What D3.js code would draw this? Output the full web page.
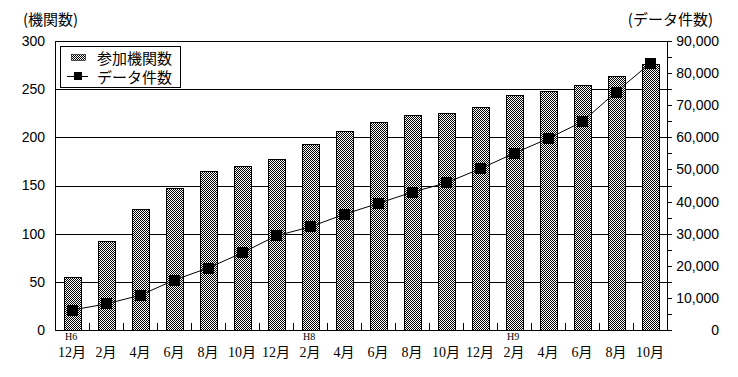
<!DOCTYPE html>
<html><head><meta charset="utf-8">
<script src="https://cdn.jsdelivr.net/npm/d3@7"></script>
<style>
body{margin:0;background:#fff;}
svg{display:block;}
</style></head>
<body>
<svg id="chart" width="738" height="377"></svg>
<script>
const categories = ["12月","2月","4月","6月","8月","10月","12月","2月","4月","6月","8月","10月","12月","2月","4月","6月","8月","10月"];
const eraLabels = ["H6","","","","","","","H8","","","","","","H9","","","",""];
const institutions = [55,92,126,147,165,170,178,193,207,216,223,225,232,244,248,254,264,276];
const dataCounts = [6200,8100,10800,15500,19300,24000,29300,32100,36000,39400,42900,45800,50200,55000,59600,64800,74100,83000];
const leftTicks = [0,50,100,150,200,250,300];
const rightTicks = d3.range(0,90001,5000);
const seriesNames = ["参加機関数","データ件数"];
const leftTitle = "(機関数)";
const rightTitle = "(データ件数)";

const svg = d3.select("#chart");
const L = 55, R = 667, T = 41, B = 330;
const numFont = "'Liberation Sans', Arial, sans-serif";
const cjkFont = "'Noto Sans CJK JP', sans-serif";

const defs = svg.append("defs");
const pat = defs.append("pattern").attr("id","dither").attr("width",2).attr("height",2).attr("patternUnits","userSpaceOnUse");
pat.append("rect").attr("width",2).attr("height",2).attr("fill","#fff");
pat.append("rect").attr("width",1).attr("height",1).attr("fill","#000");
pat.append("rect").attr("x",1).attr("y",1).attr("width",1).attr("height",1).attr("fill","#000");

const idx = categories.map((d,i)=>i);
const x = d3.scaleBand().domain(idx).range([L,R]).paddingInner(0.5).paddingOuter(0.25);
const yL = d3.scaleLinear().domain([0,300]).range([B,T]);
const yR = d3.scaleLinear().domain([0,90000]).range([B,T]);

// gridlines + left labels
const gL = svg.append("g").attr("transform",`translate(${L},0)`)
  .call(d3.axisLeft(yL).tickValues(leftTicks).tickSizeInner(-(R-L)).tickSizeOuter(0).tickPadding(10));
gL.select(".domain").remove();
gL.selectAll("line").attr("stroke","#000").attr("shape-rendering","crispEdges");
gL.selectAll("text").attr("font-family",numFont).attr("font-size",14).attr("fill","#000");

// right axis
const gR = svg.append("g").attr("transform",`translate(${R},0)`)
  .call(d3.axisRight(yR).tickValues(rightTicks).tickSizeInner(5).tickSizeOuter(0).tickPadding(0)
    .tickFormat(d => d % 10000 === 0 ? d3.format(",")(d) : ""));
gR.select(".domain").remove();
gR.selectAll("line").attr("stroke","#000").attr("shape-rendering","crispEdges");
gR.selectAll("text").attr("font-family",numFont).attr("font-size",14).attr("fill","#000")
  .attr("text-anchor","end").attr("x",52);

// bars
svg.append("g").selectAll("rect").data(institutions).join("rect")
  .attr("x",(d,i)=>Math.round(x(i))+0.5)
  .attr("y",d=>Math.round(yL(d))+0.5)
  .attr("width",Math.round(x.bandwidth()))
  .attr("height",d=>Math.round(yL(0))-Math.round(yL(d)))
  .attr("fill","url(#dither)").attr("stroke","#000").attr("stroke-width",1);

// bottom inner ticks at category boundaries
const step = x.step();
svg.append("g").selectAll("line").data(idx.slice(1)).join("line")
  .attr("x1",i=>Math.round(x(i)-(step-x.bandwidth())/2)+0.5)
  .attr("x2",i=>Math.round(x(i)-(step-x.bandwidth())/2)+0.5)
  .attr("y1",B-7).attr("y2",B).attr("stroke","#000");

// frame
svg.append("rect").attr("x",L+0.5).attr("y",T+0.5).attr("width",R-L).attr("height",B-T)
  .attr("fill","none").attr("stroke","#000");

// line + markers
const cx = i => x(i)+x.bandwidth()/2;
svg.append("path").datum(dataCounts)
  .attr("d",d3.line().x((d,i)=>cx(i)).y(d=>yR(d)))
  .attr("fill","none").attr("stroke","#000").attr("stroke-width",1);
svg.append("g").selectAll("rect").data(dataCounts).join("rect")
  .attr("x",(d,i)=>Math.round(cx(i)-5.5)).attr("y",d=>Math.round(yR(d)-5.5))
  .attr("width",11).attr("height",11).attr("fill","#000");

// x labels
const xl = svg.append("g");
xl.selectAll("text.m").data(categories).join("text").attr("class","m")
  .attr("x",(d,i)=>cx(i)).attr("y",357).attr("text-anchor","middle")
  .attr("font-family","'Liberation Serif', 'Noto Sans CJK JP', serif").attr("font-size",14)
  .text(d=>d);
xl.selectAll("text.e").data(eraLabels).join("text").attr("class","e")
  .attr("x",(d,i)=>cx(i)-7).attr("y",340)
  .attr("font-family","'Liberation Serif', serif").attr("font-size",10)
  .text(d=>d);

// titles
svg.append("text").attr("x",23).attr("y",25).attr("font-family",cjkFont).attr("font-size",15).text(leftTitle);
svg.append("text").attr("x",713).attr("y",25).attr("text-anchor","end").attr("font-family",cjkFont).attr("font-size",15).text(rightTitle);

// legend
const lg = svg.append("g");
lg.append("rect").attr("x",60.5).attr("y",46.5).attr("width",120).attr("height",41).attr("fill","#fff").attr("stroke","#000");
lg.append("rect").attr("x",71.5).attr("y",54.5).attr("width",14).attr("height",6).attr("fill","url(#dither)").attr("stroke","#000").attr("stroke-width",0.6);
lg.append("line").attr("x1",67).attr("x2",88).attr("y1",76.5).attr("y2",76.5).attr("stroke","#000");
lg.append("rect").attr("x",74).attr("y",72).attr("width",8).attr("height",8).attr("fill","#000");
lg.append("text").attr("x",97).attr("y",64).attr("font-family",cjkFont).attr("font-size",15).text(seriesNames[0]);
lg.append("text").attr("x",97).attr("y",83).attr("font-family",cjkFont).attr("font-size",15).text(seriesNames[1]);
</script>
</body></html>
